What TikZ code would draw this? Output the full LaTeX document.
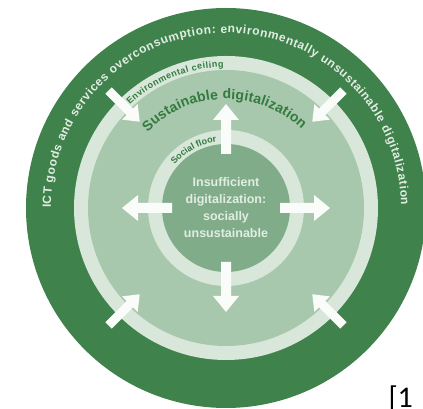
\documentclass[tikz,border=0pt]{standalone}
\usepackage{fontspec}
\setmainfont{Liberation Sans}
\newfontfamily\citefont{Carlito}
\usetikzlibrary{decorations.text}
\usepackage{xcolor}

\definecolor{ringdark}{RGB}{64,130,76}
\definecolor{bandlight}{RGB}{216,231,218}
\definecolor{zonemid}{RGB}{168,200,173}
\definecolor{zoneinner}{RGB}{128,172,137}
\definecolor{labeldark}{RGB}{50,122,62}
\definecolor{labellight}{RGB}{226,237,226}
\definecolor{arrowwhite}{RGB}{250,252,250}

\newcommand{\ictfont}{\color{labellight}\fontsize{12}{14}\selectfont\bfseries}
\newcommand{\sustfont}{\color{labeldark}\fontsize{14}{16}\selectfont\bfseries}
\newcommand{\limitfont}{\color{labeldark}\fontsize{9}{10}\selectfont\bfseries}

\tikzset{
  arrowblock/.style={fill=arrowwhite},
  ringlabel/.style={decorate, decoration={text along path, text align={fit to path}, text={#1}}},
}

\begin{document}
\begin{tikzpicture}[x=1pt, y=1pt]
  \useasboundingbox (0,0) rectangle (423,409);
  \coordinate (c) at (226,201);
  % rings, outside in
  \fill[ringdark] (c) circle (200);
  \fill[bandlight] (c) circle (152);
  \fill[zonemid] (c) circle (138);
  \fill[bandlight] (c) circle (78);
  \fill[zoneinner] (c) circle (64);
  % arrows out of the social floor
  \foreach \a in {0,90,180,270}
    \fill[arrowblock, shift={(c)}, rotate=\a]
      (54,-5) -- (88,-5) -- (88,-13) -- (104,0) -- (88,13) -- (88,5) -- (54,5) -- cycle;
  % arrows in from the environmental ceiling
  \foreach \a in {45,135,225,315}
    \fill[arrowblock, shift={(c)}, rotate=\a]
      (166,-4.5) -- (136,-4.5) -- (136,-11) -- (122,0) -- (136,11) -- (136,4.5) -- (166,4.5) -- cycle;
  % curved labels
  \path[ringlabel={|\ictfont|ICT goods and services overconsumption: environmentally unsustainable digitalization}, shift={(c)}]
    (180:175) arc[start angle=180, end angle=1, radius=175];
  \path[ringlabel={|\limitfont|Environmental ceiling}, shift={(c)}]
    (133:141) arc[start angle=133, end angle=91, radius=141];
  \path[ringlabel={|\sustfont|Sustainable digitalization}, shift={(c)}]
    (136:109) arc[start angle=136, end angle=46, radius=109];
  \path[ringlabel={|\limitfont|Social floor}, shift={(c)}]
    (140:67) arc[start angle=140, end angle=99, radius=67];
  \node[align=center, text=labellight, font=\fontsize{12.5}{17}\selectfont\bfseries] (insuff) at (c)
    {Insufficient\\digitalization:\\socially\\unsustainable};
  \node[anchor=base west, font=\citefont\fontsize{30}{30}\selectfont] (cite) at (385,1) {[1};
\end{tikzpicture}
\end{document}
